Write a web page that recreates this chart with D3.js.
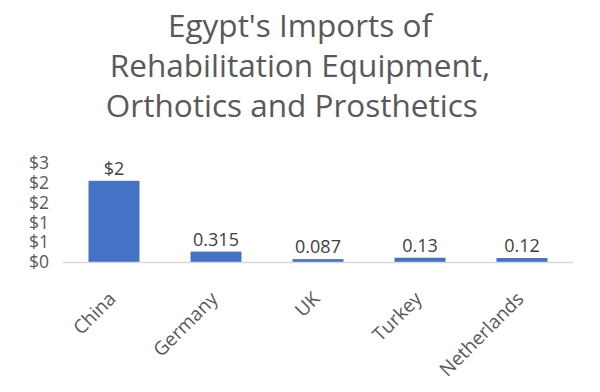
<!DOCTYPE html>
<html>
<head>
<meta charset="utf-8">
<script src="https://cdn.jsdelivr.net/npm/d3@7"></script>
<style>
  body { margin: 0; background: #fff; }
  svg { font-family: "Open Sans", sans-serif; }
</style>
</head>
<body>
<div id="chart"></div>
<script>
var titleLines = ["Egypt's Imports of", "Rehabilitation Equipment,", "Orthotics and Prosthetics\u00a0\u00a0"];
var categories = ["China", "Germany", "UK", "Turkey", "Netherlands"];
var values = [2.46, 0.315, 0.087, 0.13, 0.12];
var valueLabels = ["$2", "0.315", "0.087", "0.13", "0.12"];
var yTicks = [0, 0.6, 1.2, 1.8, 2.4, 3];

var width = 600, height = 392;
var margin = {top: 163, right: 27, bottom: 130, left: 63};

var svg = d3.select("#chart").append("svg")
    .attr("width", width)
    .attr("height", height);

// title
svg.append("g")
  .selectAll("text")
  .data(titleLines)
  .enter().append("text")
    .attr("x", width / 2)
    .attr("y", function(d, i) { return 37 + i * 40; })
    .attr("text-anchor", "middle")
    .style("font-size", "31.5px")
    .style("fill", "#595959")
    .text(function(d) { return d; });

var x = d3.scaleBand()
    .domain(categories)
    .range([margin.left, width - margin.right])
    .paddingInner(0.5)
    .paddingOuter(0.25);

var y = d3.scaleLinear()
    .domain([0, 3])
    .range([height - margin.bottom, margin.top]);

// y axis: labels only, no line
var yAxis = d3.axisLeft(y)
    .tickValues(yTicks)
    .tickFormat(d3.format("$.0f"))
    .tickSize(0)
    .tickPadding(14);
var gy = svg.append("g")
    .attr("transform", "translate(" + margin.left + ",0)")
    .call(yAxis);
gy.select(".domain").remove();
gy.selectAll("text")
    .style("font-size", "17.5px")
    .style("fill", "#595959")
    .style("font-family", "Open Sans, sans-serif");

// bars
svg.append("g")
  .selectAll("rect")
  .data(values)
  .enter().append("rect")
    .attr("x", function(d, i) { return x(categories[i]); })
    .attr("y", function(d) { return y(d); })
    .attr("width", x.bandwidth())
    .attr("height", function(d) { return y(0) - y(d); })
    .style("fill", "#4472C4");

// x axis line
svg.append("line")
    .attr("x1", margin.left)
    .attr("x2", width - margin.right)
    .attr("y1", y(0) + 0.5)
    .attr("y2", y(0) + 0.5)
    .style("stroke", "#D9D9D9")
    .style("stroke-width", 1.5);

// data labels
svg.append("g")
  .selectAll("text")
  .data(values)
  .enter().append("text")
    .attr("x", function(d, i) { return x(categories[i]) + x.bandwidth() / 2; })
    .attr("y", function(d) { return y(d) - 6; })
    .attr("text-anchor", "middle")
    .style("font-size", "18px")
    .style("fill", "#404040")
    .text(function(d, i) { return valueLabels[i]; });

// category labels
svg.append("g")
  .selectAll("text")
  .data(categories)
  .enter().append("text")
    .attr("transform", function(d) {
      return "translate(" + (x(d) + x.bandwidth() / 2 + 3) + "," + (y(0) + 38) + ") rotate(-45)";
    })
    .attr("text-anchor", "end")
    .style("font-size", "19px")
    .style("fill", "#595959")
    .text(function(d) { return d; });
</script>
</body>
</html>
